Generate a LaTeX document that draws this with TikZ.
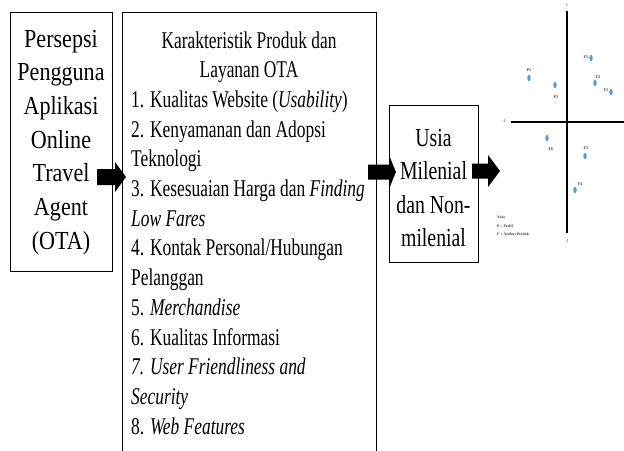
\documentclass[tikz,border=0pt]{standalone}
\usepackage{fontspec}
\usetikzlibrary{shapes.geometric}
\setmainfont{Liberation Serif}
\newfontfamily\condA[FakeStretch=0.85]{Liberation Serif}
\newfontfamily\condB[FakeStretch=0.725]{Liberation Serif}
\newfontfamily\condC[FakeStretch=0.76]{Liberation Serif}
\definecolor{ptblue}{RGB}{91,155,213}
\definecolor{lblgray}{RGB}{60,60,60}
\newcommand\blockarrow[6]{%
  \fill (#1,#4-#5) -- (#2,#4-#5) -- (#2,#4-#6) -- (#3,#4) -- (#2,#4+#6) -- (#2,#4+#5) -- (#1,#4+#5) -- cycle;}
\begin{document}
\begin{tikzpicture}[x=1pt,y=-1pt,
  box/.style={draw,line width=1.1pt,inner sep=0pt},
  ltext/.style={inner sep=0pt,anchor=base,font=\condA\fontsize{26}{30}\selectfont},
  mtext/.style={inner sep=0pt,anchor=base west,font=\condB\fontsize{24}{29}\selectfont},
  mtitle/.style={inner sep=0pt,anchor=base,font=\condB\fontsize{24}{29}\selectfont},
  utext/.style={inner sep=0pt,anchor=base,font=\condC\fontsize{26}{30}\selectfont},
  pt/.style={ellipse,fill=ptblue,inner sep=0pt,minimum width=3.4pt,minimum height=6.5pt},
  plbl/.style={inner sep=0pt,text=lblgray,font=\bfseries\fontsize{4.2}{4.2}\selectfont},
  axlbl/.style={inner sep=0pt,text=lblgray,font=\fontsize{4.5}{5}\selectfont},
  leg/.style={inner sep=0pt,anchor=west,text=lblgray,font=\bfseries\fontsize{3.8}{4}\selectfont}]
\useasboundingbox (0,0) rectangle (624,450);
\clip (0,0) rectangle (624,450);
\fill[white] (0,0) rectangle (624,450);

% left box
\node[box,anchor=north west,minimum width=102pt,minimum height=259pt] (persepsi) at (10,12) {};
\node[ltext] (a1) at (61,47) {Persepsi};
\node[ltext] (a2) at (61,80.7) {Pengguna};
\node[ltext] (a3) at (61,114.4) {Aplikasi};
\node[ltext] (a4) at (61,148.1) {Online};
\node[ltext] (a5) at (61,181.8) {Travel};
\node[ltext] (a6) at (61,215.5) {Agent};
\node[ltext] (a7) at (61,249.2) {(OTA)};

% middle box
\node[box,anchor=north west,minimum width=254pt,minimum height=460pt] (karakter) at (122,12) {};
\node[mtitle] (m0) at (249,48) {Karakteristik Produk dan};
\node[mtitle] (m1) at (249,77.7) {Layanan OTA};
\node[mtext] (m2) at (131,107.4) {1. Kualitas Website (\textit{Usability})};
\node[mtext] (m3) at (131,137.1) {2. Kenyamanan dan Adopsi};
\node[mtext] (m4) at (131,166.8) {Teknologi};
\node[mtext] (m5) at (131,196.5) {3. Kesesuaian Harga dan \textit{Finding}};
\node[mtext] (m6) at (131,226.2) {\textit{Low Fares}};
\node[mtext] (m7) at (131,255.9) {4. Kontak Personal/Hubungan};
\node[mtext] (m8) at (131,285.6) {Pelanggan};
\node[mtext] (m9) at (131,315.3) {5. \textit{Merchandise}};
\node[mtext] (m10) at (131,345.0) {6. Kualitas Informasi};
\node[mtext] (m11) at (131,374.7) {\textit{7. User Friendliness and}};
\node[mtext] (m12) at (131,404.4) {\textit{Security}};
\node[mtext] (m13) at (131,434.1) {8. \textit{Web Features}};

% usia box
\node[box,anchor=north west,minimum width=89pt,minimum height=157pt] (usia) at (389,105) {};
\node[utext] (u1) at (433.5,146) {Usia};
\node[utext] (u2) at (433.5,179.5) {Milenial};
\node[utext] (u3) at (433.5,213) {dan Non-};
\node[utext] (u4) at (433.5,246.5) {milenial};

% block arrows
\blockarrow{97}{115}{126}{177}{8}{15}
\blockarrow{368}{390}{396}{172}{7.5}{14.5}
\blockarrow{472}{488}{500}{171}{7.5}{16}

% scatter plot
\coordinate (vt) at (567,11);
\coordinate (vb) at (567,233);
\coordinate (hl) at (511,122);
\coordinate (hr) at (624,122);
\draw[line width=1.2pt] (vt) -- (vb);
\draw[line width=2.6pt] (hl) -- (hr);
\node[axlbl] (ytop) at (567,5) {1};
\node[axlbl] (xleft) at (504,121) {-1};
\node[axlbl] (ybot) at (567,241) {-1};

\node[pt] (q1) at (529,78) {};  \node[plbl] (q1l) at (529,70) {P1};
\node[pt] (q2) at (555,85) {};  \node[plbl] (q2l) at (556,97) {P3};
\node[pt] (q3) at (591,58) {};  \node[plbl] (q3l) at (586,57.5) {F5};
\node[pt] (q4) at (595,83) {};  \node[plbl] (q4l) at (598,77) {F2};
\node[pt] (q5) at (611,92) {};  \node[plbl] (q5l) at (606,90) {F1};
\node[pt] (q6) at (547,138) {}; \node[plbl] (q6l) at (551,149) {F6};
\node[pt] (q7) at (585,156) {}; \node[plbl] (q7l) at (586,148) {F3};
\node[pt] (q8) at (575,190) {}; \node[plbl] (q8l) at (580,184) {F4};

\node[leg] (n1) at (497,217) {Nota};
\node[leg] (n2) at (497,226) {P = Profil};
\node[leg] (n3) at (497,234) {F = Atribut Produk};
\end{tikzpicture}
\end{document}
